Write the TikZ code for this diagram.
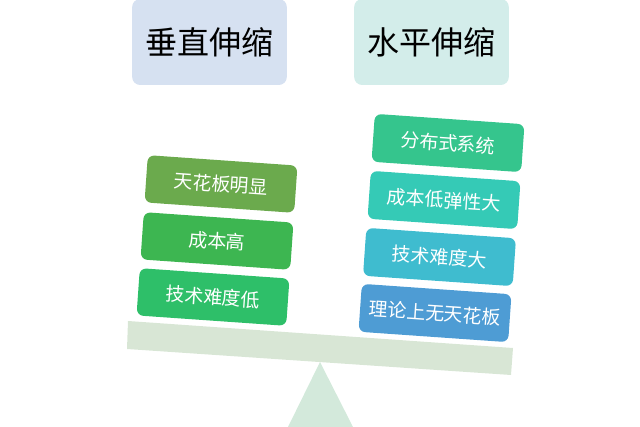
\documentclass[tikz,border=0pt]{standalone}
\usepackage{fontspec}
\setmainfont{Noto Sans CJK SC}
\usetikzlibrary{shapes}

\definecolor{headv}{HTML}{D6E1F1}
\definecolor{headh}{HTML}{D3EDEA}
\definecolor{beamc}{HTML}{D8E6D5}
\definecolor{pivotc}{HTML}{D3E9DB}
\definecolor{cva}{HTML}{6BAA4D}
\definecolor{cvb}{HTML}{3DB651}
\definecolor{cvc}{HTML}{2EBF69}
\definecolor{cha}{HTML}{35C58D}
\definecolor{chb}{HTML}{35CAB6}
\definecolor{chc}{HTML}{3FBCCF}
\definecolor{chd}{HTML}{4E9CD4}

\begin{document}
\begin{tikzpicture}[x=0.75pt,y=0.75pt,yscale=-1,xscale=1,
  headbox/.style={rounded corners=6pt, minimum width=116pt, minimum height=64.5pt, inner sep=0pt, font=\fontsize{24}{28}\selectfont, text=black},
  itembox/.style={rounded corners=5pt, minimum width=112.5pt, minimum height=35.5pt, inner sep=0pt, rotate=-4, font=\fontsize{14.2}{17}\selectfont, text=white}]
\useasboundingbox (0,0) rectangle (640,427);

%Shape: Triangle [id:pivot]
\fill [pivotc] (320,362) -- (353,427) -- (288,427) -- cycle ;
%Shape: Beam [id:beam]
\fill [beamc] (128,321) -- (513,348) -- (511,375) -- (127,349) -- cycle ;

% Text Node
\node (vert) [headbox, fill=headv] at (209.5,42) {垂直伸缩};
% Text Node
\node (horz) [headbox, fill=headh] at (431.5,42) {水平伸缩};

% Text Node
\node (va) [itembox, fill=cva] at (221,184) {天花板明显};
% Text Node
\node (vb) [itembox, fill=cvb] at (217,241) {成本高};
% Text Node
\node (vc) [itembox, fill=cvc] at (213,297) {技术难度低};

% Text Node
\node (ha) [itembox, fill=cha, minimum height=36pt] at (448,143) {分布式系统};
% Text Node
\node (hb) [itembox, fill=chb, minimum height=36pt] at (444,200) {成本低弹性大};
% Text Node
\node (hc) [itembox, fill=chc, minimum height=36pt] at (439.5,257) {技术难度大};
% Text Node
\node (hd) [itembox, fill=chd, minimum height=36pt] at (435,313) {理论上无天花板};

\end{tikzpicture}
\end{document}
